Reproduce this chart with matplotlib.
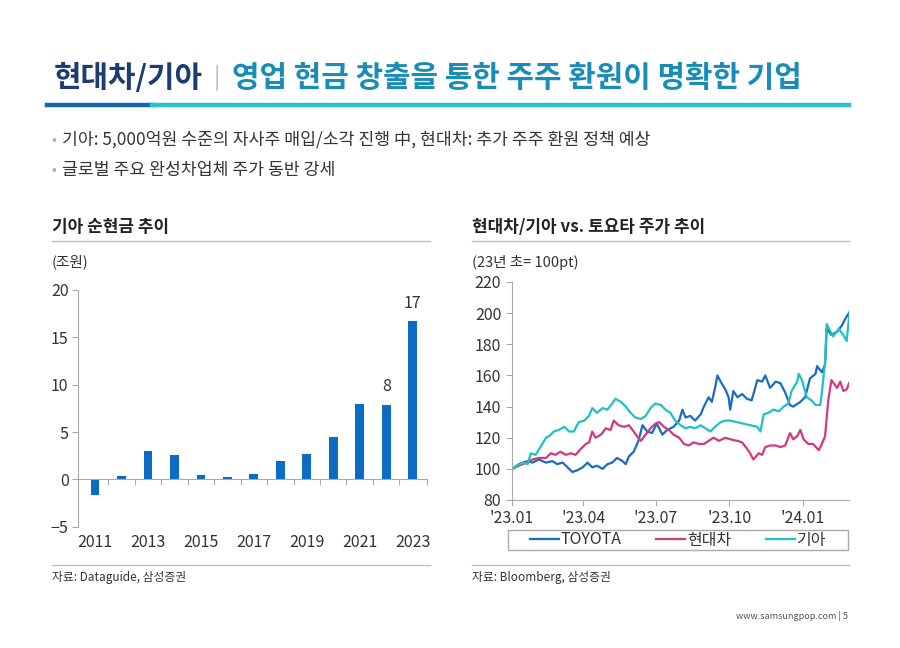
import matplotlib
matplotlib.use("Agg")
import matplotlib.pyplot as plt
from matplotlib.patches import Rectangle
from matplotlib.lines import Line2D
import pandas as pd

plt.rcParams['font.family'] = ['Noto Sans CJK KR', 'DejaVu Sans']

# ---- data: Kia net cash (trillion KRW) ----
years = [2011, 2012, 2013, 2014, 2015, 2016, 2017, 2018, 2019, 2020, 2021, 2022, 2023]
net_cash = [-1.7, 0.4, 3.0, 2.6, 0.5, 0.3, 0.6, 1.9, 2.7, 4.5, 8.0, 7.9, 16.7]
bar_labels = {2022: "8", 2023: "17"}

# ---- data: share price index (start of 2023 = 100), days since 2023-01-02 ----
toyota_days = [0, 8, 19, 25, 33, 42, 50, 56, 63, 69, 75, 81, 88, 94, 100, 106, 113, 119, 125, 131,
               138, 142, 146, 152, 158, 163, 169, 175, 181, 188, 194, 202, 209, 213, 217, 223, 229, 236,
               240, 246, 250, 254, 257, 261, 267, 271, 273, 277, 282, 288, 294, 300, 307, 313, 317, 323,
               330, 336, 342, 348, 352, 361, 367, 373, 380, 382, 388, 392, 394, 400, 407, 413, 417, 423]
toyota_vals = [100, 103, 105, 104, 106, 104, 105, 103, 104, 101, 98, 99, 101, 104, 101, 102, 100, 103, 104, 107,
               105, 103, 108, 111, 118, 128, 124, 123, 129, 122, 125, 127, 131, 138, 133, 134, 131, 135,
               140, 146, 143, 152, 160, 156, 151, 146, 138, 150, 146, 148, 145, 144, 157, 156, 160, 152,
               156, 155, 149, 141, 140, 143, 146, 158, 161, 166, 162, 167, 190, 186, 188, 192, 196, 201]

hyundai_days = [0, 8, 17, 25, 33, 42, 48, 54, 60, 67, 73, 79, 86, 92, 96, 100, 104, 111, 117, 123, 127,
                133, 140, 146, 152, 156, 161, 167, 173, 179, 184, 190, 196, 202, 209, 215, 221, 227, 234,
                240, 246, 252, 259, 267, 273, 282, 288, 294, 298, 302, 309, 313, 317, 323, 330, 336, 342,
                348, 352, 357, 361, 365, 371, 377, 384, 388, 392, 396, 400, 407, 411, 415, 419, 423]
hyundai_vals = [100, 102, 104, 106, 107, 107, 110, 109, 111, 109, 110, 109, 113, 116, 117, 124, 120, 122, 126, 125, 131,
                128, 127, 128, 124, 121, 118, 122, 126, 129, 130, 127, 125, 122, 120, 116, 115, 117, 116,
                116, 118, 120, 118, 120, 119, 118, 117, 113, 110, 106, 110, 109, 114, 115, 115, 114, 115,
                123, 119, 121, 125, 119, 116, 116, 112, 116, 121, 144, 157, 152, 156, 150, 151, 156]

kia_days = [0, 6, 13, 19, 23, 29, 35, 42, 46, 52, 58, 65, 71, 77, 83, 90, 96, 100, 106, 113, 119, 125,
            129, 136, 142, 148, 154, 161, 167, 173, 179, 186, 192, 198, 204, 211, 217, 223, 229, 236, 242,
            248, 254, 261, 267, 273, 307, 311, 315, 321, 327, 334, 340, 346, 350, 357, 359, 363, 369, 375,
            380, 386, 388, 392, 394, 398, 402, 409, 415, 419, 421, 423]
kia_vals = [100, 102, 104, 103, 110, 109, 114, 120, 121, 124, 125, 127, 124, 124, 130, 131, 134, 139, 136, 139, 138, 142,
            145, 143, 140, 136, 133, 132, 134, 139, 142, 141, 138, 136, 131, 128, 126, 127, 126, 128, 126,
            124, 127, 130, 131, 131, 127, 124, 135, 136, 138, 137, 140, 142, 150, 156, 161, 157, 146, 144,
            141, 141, 149, 169, 193, 189, 185, 190, 186, 182, 192, 201]

price_ticks = ["2023-01-01", "2023-04-01", "2023-07-01", "2023-10-01", "2024-01-01"]
price_tick_labels = ["'23.01", "'23.04", "'23.07", "'23.10", "'24.01"]

W, H = 900, 648
fig = plt.figure(figsize=(9, 6.48), dpi=100)
fig.patch.set_facecolor('white')


def fx(x):
    return x / W


def fy(y):
    return 1 - y / H


text_c = '#333333'
grid_c = '#bdbdbd'

# ---- header ----
fig.text(fx(54), fy(78), "현대차/기아", fontsize=21.5, fontweight='bold', color='#1c3d70', va='center')
fig.text(fx(214), fy(78), "|", fontsize=17, color='#bbbbbb', va='center')
fig.text(fx(232), fy(78), "영업 현금 창출을 통한 주주 환원이 명확한 기업", fontsize=21.5, fontweight='bold',
         color='#1a8cb8', va='center')
fig.add_artist(Line2D([fx(47), fx(152)], [fy(105), fy(105)], color='#1565b5', lw=3.2))
fig.add_artist(Line2D([fx(152), fx(849)], [fy(105), fy(105)], color='#25c4c8', lw=3.2))

bullets = ["기아: 5,000억원 수준의 자사주 매입/소각 진행 中, 현대차: 추가 주주 환원 정책 예상",
           "글로벌 주요 완성차업체 주가 동반 강세"]
for i, b in enumerate(bullets):
    yy = 140 + i * 30
    fig.text(fx(51), fy(yy), "•", fontsize=10, color='#aaaaaa', va='center')
    fig.text(fx(62), fy(yy), b, fontsize=12.4, color=text_c, va='center')

# ---- subtitles, rules, sources ----
fig.text(fx(52), fy(227), "기아 순현금 추이", fontsize=12.2, fontweight='bold', color='#222222', va='center')
fig.text(fx(472), fy(227), "현대차/기아 vs. 토요타 주가 추이", fontsize=12.2, fontweight='bold', color='#222222', va='center')
for x0, x1 in [(52, 430), (472, 849)]:
    fig.add_artist(Line2D([fx(x0), fx(x1)], [fy(241), fy(241)], color=grid_c, lw=1))
    fig.add_artist(Line2D([fx(x0), fx(x1)], [fy(565), fy(565)], color=grid_c, lw=1))
fig.text(fx(52), fy(262), "(조원)", fontsize=10.5, color=text_c, va='center')
fig.text(fx(472), fy(262), "(23년 초= 100pt)", fontsize=10.5, color=text_c, va='center')
fig.text(fx(52), fy(577), "자료: Dataguide, 삼성증권", fontsize=8.5, color=text_c, va='center')
fig.text(fx(472), fy(577), "자료: Bloomberg, 삼성증권", fontsize=8.5, color=text_c, va='center')
fig.text(fx(848), fy(616), "www.samsungpop.com | 5", fontsize=6.5, color='#555555', va='center', ha='right')

# ---- left: bar chart ----
ax1 = fig.add_axes([fx(78.3), fy(526.7), (426.7 - 78.3) / W, (526.7 - 290) / H])
pos = list(range(len(years)))
ax1.bar(pos, net_cash, width=0.33, color='#0a6cc4')
for p, yr, v in zip(pos, years, net_cash):
    if yr in bar_labels:
        ax1.text(p, v + 1.0, bar_labels[yr], ha='center', va='bottom', fontsize=11.5, color=text_c)
    if yr % 2 == 1:
        ax1.text(p, -0.03, str(yr), transform=ax1.get_xaxis_transform(), ha='center', va='top',
                 fontsize=11.5, color=text_c)
ax1.set_xlim(-0.63, 12.53)
ax1.set_ylim(-5, 20)
ax1.set_yticks([-5, 0, 5, 10, 15, 20])
ax1.spines['top'].set_visible(False)
ax1.spines['right'].set_visible(False)
ax1.spines['bottom'].set_position(('data', 0))
ax1.spines['left'].set_color('#aaaaaa')
ax1.spines['bottom'].set_color('#aaaaaa')
ax1.set_xticks([p + 0.5 for p in pos[:-1]] + [12.53])
ax1.set_xticklabels([])
ax1.tick_params(axis='x', length=4, color='#aaaaaa', direction='out')
ax1.tick_params(axis='y', length=4, color='#aaaaaa', labelsize=11.5, labelcolor=text_c, pad=3)

# ---- right: line chart ----
ax2 = fig.add_axes([fx(511.7), fy(500), (849 - 511.7) / W, (500 - 282) / H])
base = pd.Timestamp("2023-01-02")
series = [("TOYOTA", toyota_days, toyota_vals, '#1a6cc0'),
          ("현대차", hyundai_days, hyundai_vals, '#d6387c'),
          ("기아", kia_days, kia_vals, '#1fc2c2')]
for name, d, v, c in series:
    dates = base + pd.to_timedelta(d, unit='D')
    ax2.plot(dates, v, color=c, lw=1.6, label=name)
ax2.set_xlim(pd.Timestamp("2023-01-01"), pd.Timestamp("2024-02-28"))
ax2.set_ylim(80, 220)
ax2.set_yticks(range(80, 221, 20))
ax2.set_xticks(pd.to_datetime(price_ticks))
ax2.set_xticklabels(price_tick_labels)
ax2.spines['top'].set_visible(False)
ax2.spines['right'].set_visible(False)
ax2.spines['left'].set_color('#aaaaaa')
ax2.spines['bottom'].set_color('#aaaaaa')
ax2.tick_params(axis='both', length=4, color='#aaaaaa', labelsize=11.5, labelcolor=text_c)

fig.add_artist(Rectangle((fx(508), fy(550)), (848 - 508) / W, 20 / H, fill=False, edgecolor='#aaaaaa', lw=1))
fig.legend(handles=ax2.get_lines(), loc='center', bbox_to_anchor=(fx(678), fy(540)), ncol=3, frameon=False,
           fontsize=11.5, handlelength=1.8, handletextpad=0.1, columnspacing=2.2, labelcolor=text_c)

fig.savefig("out.png", dpi=100)
